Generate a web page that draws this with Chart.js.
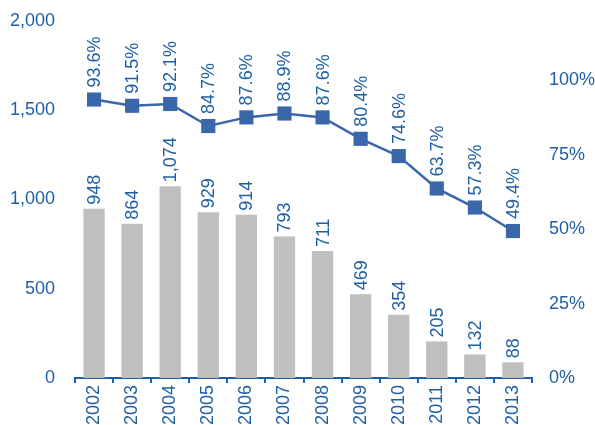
<!DOCTYPE html>
<html>
<head>
<meta charset="utf-8">
<script src="https://cdn.jsdelivr.net/npm/chart.js@4.4.1/dist/chart.umd.min.js"></script>
<style>
  html, body { margin: 0; padding: 0; background: #fff; }
  #wrap { width: 595px; height: 425px; position: relative; }
</style>
</head>
<body>
<div id="wrap"><canvas id="canvas"></canvas></div>
<script>
const years = ['2002', '2003', '2004', '2005', '2006', '2007', '2008', '2009', '2010', '2011', '2012', '2013'];
const counts = [948, 864, 1074, 929, 914, 793, 711, 469, 354, 205, 132, 88];
const shares = [93.6, 91.5, 92.1, 84.7, 87.6, 88.9, 87.6, 80.4, 74.6, 63.7, 57.3, 49.4];

const BLUE_TEXT = '#1f5fa6';
const BLUE_LINE = '#3a66aa';
const GREY_BAR = '#bebfc1';
const FONT = "'Liberation Sans', Arial, sans-serif";

// rotated value labels above bars and line points
const valueLabels = {
    id: 'valueLabels',
    afterDatasetsDraw(chart) {
        const ctx = chart.ctx;
        ctx.save();
        ctx.font = '18px ' + FONT;
        ctx.fillStyle = BLUE_TEXT;
        ctx.textAlign = 'left';
        ctx.textBaseline = 'middle';
        chart.data.datasets.forEach((ds, i) => {
            const meta = chart.getDatasetMeta(i);
            const gap = ds.type === 'line' ? 12 : 4;
            meta.data.forEach((el, j) => {
                const v = ds.data[j];
                const text = ds.type === 'line' ? v.toFixed(1) + '%' : v.toLocaleString('en-US');
                ctx.save();
                ctx.translate(el.x + 1, el.y - gap);
                ctx.rotate(-Math.PI / 2);
                ctx.fillText(text, 0, 0);
                ctx.restore();
            });
        });
        ctx.restore();
    }
};

// fixed axis width, and no extra room reserved above/below for tick labels
const fitSide = width => scale => {
    scale.width = width;
    scale.paddingTop = 0;
    scale.paddingBottom = 0;
};

new Chart(document.getElementById('canvas'), {
    data: {
        labels: years,
        datasets: [
            {
                type: 'line',
                data: shares,
                yAxisID: 'y1',
                borderColor: BLUE_LINE,
                backgroundColor: BLUE_LINE,
                borderWidth: 2.5,
                pointStyle: 'rect',
                pointRadius: 10,
                pointHoverRadius: 10,
                pointBorderWidth: 0,
                tension: 0,
                order: 1
            },
            {
                type: 'bar',
                data: counts,
                yAxisID: 'y',
                backgroundColor: GREY_BAR,
                categoryPercentage: 1,
                barPercentage: 0.56,
                order: 2
            }
        ]
    },
    options: {
        responsive: true,
        maintainAspectRatio: false,
        animation: false,
        layout: { padding: { top: 21, left: 0, right: 0, bottom: 0 } },
        plugins: {
            legend: { display: false },
            tooltip: { enabled: false }
        },
        scales: {
            x: {
                offset: true,
                border: { display: true, color: BLUE_TEXT, width: 2 },
                grid: {
                    display: true,
                    offset: true,
                    drawOnChartArea: false,
                    drawTicks: true,
                    tickLength: 5,
                    color: BLUE_TEXT,
                    lineWidth: 2
                },
                ticks: {
                    color: BLUE_TEXT,
                    font: { family: FONT, size: 18 },
                    minRotation: 90,
                    maxRotation: 90,
                    padding: 2
                },
                afterFit(scale) { scale.height = 47; }
            },
            y: {
                position: 'left',
                min: 0,
                max: 2000,
                border: { display: false },
                grid: { display: false, drawTicks: false },
                ticks: {
                    stepSize: 500,
                    padding: 20,
                    color: BLUE_TEXT,
                    font: { family: FONT, size: 18 },
                    callback: v => v.toLocaleString('en-US')
                },
                afterFit: fitSide(75)
            },
            y1: {
                position: 'right',
                min: 0,
                max: 120,
                border: { display: false },
                grid: { display: false, drawTicks: false },
                ticks: {
                    stepSize: 25,
                    padding: 17,
                    color: BLUE_TEXT,
                    font: { family: FONT, size: 18 },
                    callback: v => v + '%'
                },
                afterBuildTicks(scale) {
                    scale.ticks = scale.ticks.filter(t => t.value <= 100);
                },
                afterFit: fitSide(63)
            }
        }
    },
    plugins: [valueLabels]
});
</script>
</body>
</html>
